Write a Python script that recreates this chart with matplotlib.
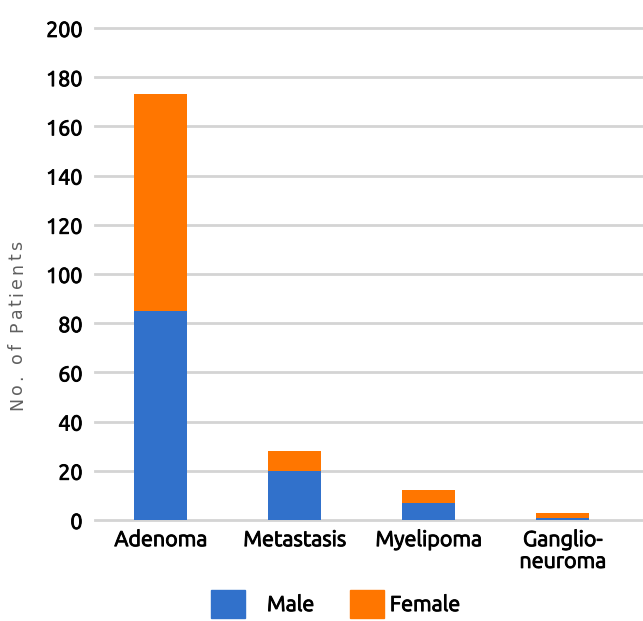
import numpy as np
import matplotlib.pyplot as plt
import matplotlib.patheffects as pe
from matplotlib.patches import Patch
from matplotlib.font_manager import FontProperties

categories = ['Adenoma', 'Metastasis', 'Myelipoma', 'Ganglio-\nneuroma']
male = [85, 20, 7, 1]
female = [88, 8, 5, 2]
yticks = [0, 20, 40, 60, 80, 100, 120, 140, 160, 180, 200]

blue = '#3171cb'
orange = '#ff7600'

plt.rcParams['font.family'] = ['Ubuntu', 'Open Sans', 'DejaVu Sans']

# slightly heavier strokes for the black labels
heavy = [pe.withStroke(linewidth=0.7, foreground='black')]

W, H = 643, 621
fig = plt.figure(figsize=(W / 100, H / 100), dpi=100)
ax = fig.add_axes([95 / W, 1 - 520 / H, 1 - 95 / W, 492 / H])

x = np.arange(len(categories))
ax.bar(x, male, width=0.4, color=blue, zorder=3)
ax.bar(x, female, width=0.4, bottom=male, color=orange, zorder=3)

ax.set_ylim(0, 200)
ax.set_xlim(-0.49, 3.6)
ax.set_yticks(yticks)
ax.set_yticklabels([str(v) for v in yticks], fontsize=15.5, color='black')
ax.yaxis.grid(True, color='#d4d4d4', linewidth=2, zorder=0)
for gl in ax.get_ygridlines():
    gl.set_clip_on(False)
ax.tick_params(axis='y', length=0, pad=9)
ax.set_xticks(x)
ax.set_xticklabels(categories, fontsize=15.5, linespacing=1.0)
ax.tick_params(axis='x', length=0, pad=6)
for s in ax.spines.values():
    s.set_visible(False)
for lab in ax.get_xticklabels() + ax.get_yticklabels():
    lab.set_path_effects(heavy)

# y label with letter spacing, one glyph at a time going upwards
ylabel = 'No. of Patients'
prop = FontProperties(family='DejaVu Sans', size=12.5, weight='normal')
renderer = fig.canvas.get_renderer()


def text_width(s):
    w, _, _ = renderer.get_text_width_height_descent(s + '|', prop, ismath=False)
    w0, _, _ = renderer.get_text_width_height_descent('|', prop, ismath=False)
    return w - w0


spacing = 3.0
y0 = 410
for i, ch in enumerate(ylabel):
    ypix = y0 - text_width(ylabel[:i]) - i * spacing
    fig.text(22 / W, 1 - ypix / H, ch, rotation=90, rotation_mode='anchor',
             ha='left', va='baseline', fontproperties=prop, color='#5f5f5f')

leg1 = fig.legend(handles=[Patch(color=blue, label='Male')], loc='center left',
                  bbox_to_anchor=(211 / W, 1 - 604 / H), frameon=False, fontsize=15.5,
                  handlelength=1.6, handleheight=1.6, handletextpad=1.0,
                  borderpad=0, borderaxespad=0)
leg2 = fig.legend(handles=[Patch(color=orange, label='Female')], loc='center left',
                  bbox_to_anchor=(350 / W, 1 - 604 / H), frameon=False, fontsize=15.5,
                  handlelength=1.6, handleheight=1.6, handletextpad=0.25,
                  borderpad=0, borderaxespad=0)
for leg in (leg1, leg2):
    for t in leg.get_texts():
        t.set_path_effects(heavy)

fig.savefig('out.png', dpi=100)
